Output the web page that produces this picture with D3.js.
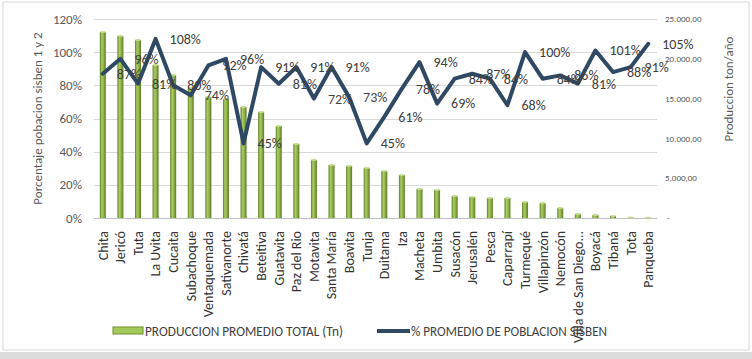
<!DOCTYPE html>
<html>
<head>
<meta charset="utf-8">
<script src="https://d3js.org/d3.v7.min.js"></script>
<style>
  body { margin: 0; background: #fff; }
  text { font-family: Carlito, Lato, "Open Sans", sans-serif; }
</style>
</head>
<body>
<div id="chart"></div>
<script>
var categories = ["Chita", "Jericó", "Tuta", "La Uvita", "Cucaita", "Subachoque", "Ventaquemada",
  "Sativanorte", "Chivatá", "Beteitiva", "Guatavita", "Paz del Rio", "Motavita", "Santa María",
  "Boavita", "Tunja", "Duitama", "Iza", "Macheta", "Umbita", "Susacón", "Jerusalén", "Pesca",
  "Caparrapí", "Turmequé", "Villapinzón", "Nemocón", "Villa de San Diego...", "Boyacá", "Tibaná",
  "Tota", "Panqueba"];

// produccion promedio total (Tn)
var produccion = [23370, 22860, 22360, 19220, 17960, 16330, 15200, 14950, 13940, 13310, 11560,
  9300, 7290, 6660, 6530, 6280, 5900, 5400, 3640, 3520, 2760, 2640, 2510, 2510, 2010, 1880,
  1260, 500, 380, 250, 60, 20];

// % promedio de poblacion sisben
var sisben = [87, 96, 81, 108, 80, 74, 92, 96, 45, 91, 81, 91, 72, 91, 73, 45, 61, 78, 94, 69,
  84, 87, 84, 68, 100, 84, 86, 81, 101, 88, 91, 105];

var pctTicks = [0, 20, 40, 60, 80, 100, 120];
var tonTicks = [0, 5000, 10000, 15000, 20000, 25000];

var width = 752, height = 359;
var plot = {left: 94, right: 657, top: 19, bottom: 218};

var svg = d3.select("#chart").append("svg")
    .attr("width", width)
    .attr("height", height);

var defs = svg.append("defs");
var grad = defs.append("linearGradient").attr("id", "barGrad")
    .attr("x1", "0%").attr("x2", "100%").attr("y1", "0%").attr("y2", "0%");
grad.append("stop").attr("offset", "0%").attr("stop-color", "#5f7f24");
grad.append("stop").attr("offset", "35%").attr("stop-color", "#abcd66");
grad.append("stop").attr("offset", "60%").attr("stop-color", "#92b64b");
grad.append("stop").attr("offset", "100%").attr("stop-color", "#5a7a22");

////////// frame //////////
svg.append("rect")
    .attr("x", 3).attr("y", 2).attr("width", 746).attr("height", 348)
    .attr("fill", "#fff").attr("stroke", "#d9d9d9");
svg.append("rect")
    .attr("x", 0).attr("y", 352).attr("width", width).attr("height", 7)
    .attr("fill", "#dcdcdc");

////////// scales //////////
var x = d3.scaleBand()
    .domain(categories)
    .range([plot.left, plot.right]);

var yPct = d3.scaleLinear().domain([0, 120]).range([plot.bottom, plot.top]);
var yTon = d3.scaleLinear().domain([0, 25000]).range([plot.bottom, plot.top]);

var esLocale = d3.formatLocale({decimal: ",", thousands: ".", grouping: [3], currency: ["$", ""]});
var fmtTon = esLocale.format(",.2f");

// gridlines
svg.append("g").selectAll("line")
    .data(pctTicks)
    .enter().append("line")
    .attr("x1", plot.left).attr("x2", plot.right)
    .attr("y1", function(d) { return Math.round(yPct(d)) + 0.5; })
    .attr("y2", function(d) { return Math.round(yPct(d)) + 0.5; })
    .attr("stroke", function(d) { return d === 0 ? "#bfbfbf" : "#d9d9d9"; });

// left axis
svg.append("g").selectAll("text")
    .data(pctTicks)
    .enter().append("text")
    .attr("x", 82)
    .attr("y", function(d) { return yPct(d); })
    .attr("dy", "0.35em")
    .attr("text-anchor", "end")
    .attr("fill", "#595959")
    .style("font-size", "13px")
    .text(function(d) { return d + "%"; });

// right axis
svg.append("g").selectAll("text")
    .data(tonTicks)
    .enter().append("text")
    .attr("x", function(d) { return d === 0 ? 667 : 665; })
    .attr("y", function(d) { return yTon(d); })
    .attr("dy", "0.35em")
    .attr("fill", "#595959")
    .style("font-size", "9px")
    .text(function(d) { return d === 0 ? "-" : fmtTon(d); });

// axis titles
svg.append("text")
    .attr("transform", "translate(37," + ((plot.top + plot.bottom) / 2) + ") rotate(-90)")
    .attr("text-anchor", "middle")
    .attr("dy", "0.35em")
    .attr("fill", "#595959")
    .style("font-size", "13px")
    .text("Porcentaje pobacion sisben 1 y 2");

svg.append("text")
    .attr("transform", "translate(728,89) rotate(-90)")
    .attr("text-anchor", "middle")
    .attr("dy", "0.35em")
    .attr("fill", "#595959")
    .style("font-size", "13px")
    .text("Produccion ton/año");

////////// bars //////////
var barW = 6;
var bars = svg.append("g").selectAll("g")
    .data(categories)
    .enter().append("g");

bars.append("rect")
    .attr("x", function(d) { return x(d) + x.bandwidth() / 2 - barW / 2; })
    .attr("y", function(d, i) { return yTon(produccion[i]); })
    .attr("width", barW)
    .attr("height", function(d, i) { return plot.bottom - yTon(produccion[i]); })
    .attr("fill", "url(#barGrad)");

bars.append("ellipse")
    .attr("cx", function(d) { return x(d) + x.bandwidth() / 2; })
    .attr("cy", function(d, i) { return yTon(produccion[i]); })
    .attr("rx", barW / 2)
    .attr("ry", 1)
    .attr("fill", "#c4dc8e");

// category labels
svg.append("g").selectAll("text")
    .data(categories)
    .enter().append("text")
    .attr("transform", function(d) {
      return "translate(" + (x(d) + x.bandwidth() / 2) + ",231) rotate(-90)";
    })
    .attr("dy", "0.35em")
    .attr("text-anchor", "end")
    .attr("fill", "#333")
    .style("font-size", "14px")
    .text(function(d) { return d; });

////////// line //////////
var line = d3.line()
    .x(function(d, i) { return x(categories[i]) + x.bandwidth() / 2; })
    .y(function(d) { return yPct(d); });

svg.append("path")
    .datum(sisben)
    .attr("d", line)
    .attr("fill", "none")
    .attr("stroke", "#2f4863")
    .attr("stroke-width", 4)
    .attr("stroke-linejoin", "round")
    .attr("stroke-linecap", "round");

svg.append("g").selectAll("text")
    .data(sisben)
    .enter().append("text")
    .attr("x", function(d, i) { return x(categories[i]) + x.bandwidth() / 2 + 14; })
    .attr("y", function(d) { return yPct(d); })
    .attr("dy", "0.35em")
    .attr("fill", "#404040")
    .style("font-size", "14px")
    .text(function(d) { return d + "%"; });

////////// legend //////////
var legend = svg.append("g");
legend.append("rect")
    .attr("x", 113).attr("y", 327).attr("width", 30).attr("height", 7)
    .attr("fill", "#a6c95c").attr("stroke", "#6e8f2f");
legend.append("text")
    .attr("x", 145).attr("y", 331).attr("dy", "0.35em")
    .attr("fill", "#404040")
    .style("font-size", "14px")
    .attr("textLength", 198)
    .attr("lengthAdjust", "spacingAndGlyphs")
    .text("PRODUCCION PROMEDIO TOTAL (Tn)");
legend.append("line")
    .attr("x1", 377).attr("x2", 410).attr("y1", 331).attr("y2", 331)
    .attr("stroke", "#2f4863").attr("stroke-width", 4);
legend.append("text")
    .attr("x", 411).attr("y", 331).attr("dy", "0.35em")
    .attr("fill", "#404040")
    .style("font-size", "14px")
    .attr("textLength", 196)
    .attr("lengthAdjust", "spacingAndGlyphs")
    .text("% PROMEDIO DE POBLACION SISBEN");
</script>
</body>
</html>
